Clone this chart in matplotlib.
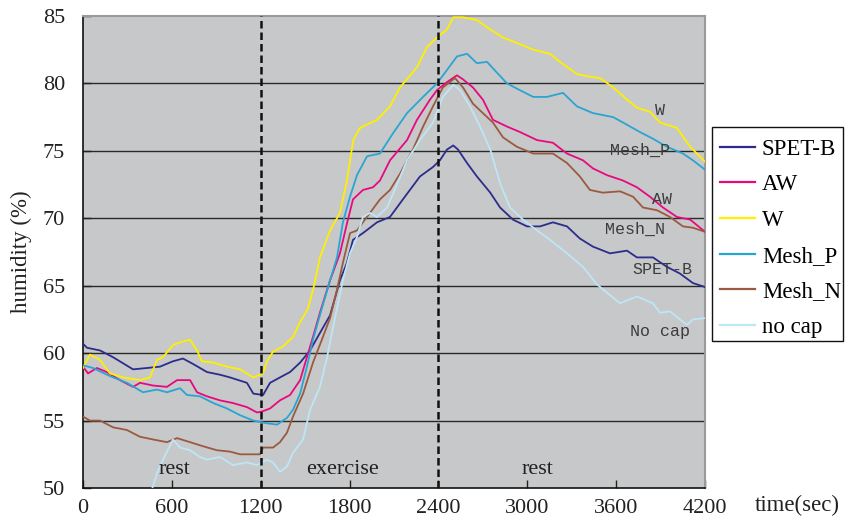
import matplotlib
matplotlib.use("Agg")
import matplotlib.pyplot as plt
from matplotlib.patches import Rectangle

plt.rcParams['font.family'] = ['Liberation Serif', 'DejaVu Serif']

# --- humidity traces (time in s, relative humidity in %) ---
t_w = [0, 47, 115, 182, 270, 385, 452, 500, 540, 608, 655, 723, 770, 803, 880, 972, 1060, 1150, 1216, 1242,
       1283, 1350, 1418, 1466, 1519, 1560, 1600, 1668, 1735, 1782, 1825, 1870, 1985, 2073, 2140, 2255, 2323,
       2390, 2458, 2500, 2566, 2660, 2750, 2836, 2930, 3040, 3153, 3220, 3335, 3423, 3490, 3580, 3673, 3740,
       3828, 3896, 4010, 4100, 4200]
h_w = [58.9, 59.9, 59.5, 58.5, 58.2, 58.0, 58.2, 59.5, 59.7, 60.6, 60.8, 61.0, 60.2, 59.4, 59.3, 59.0, 58.8,
       58.2, 58.5, 59.4, 60.1, 60.5, 61.2, 62.3, 63.3, 65.0, 67.1, 69.1, 70.4, 72.8, 75.8, 76.7, 77.3, 78.3,
       79.7, 81.2, 82.7, 83.4, 84.0, 84.9, 84.9, 84.7, 84.0, 83.4, 83.0, 82.5, 82.2, 81.6, 80.7, 80.5, 80.4,
       79.7, 78.8, 78.2, 77.9, 77.1, 76.7, 75.3, 74.2]

t_aw = [0, 34, 94, 160, 250, 338, 385, 473, 567, 635, 723, 770, 837, 925, 1013, 1107, 1175, 1216, 1263, 1330,
        1398, 1466, 1512, 1553, 1600, 1668, 1735, 1782, 1823, 1890, 1958, 2005, 2073, 2188, 2255, 2343, 2390,
        2458, 2525, 2566, 2633, 2700, 2768, 2863, 2950, 3065, 3173, 3268, 3376, 3443, 3538, 3646, 3740, 3828,
        3916, 4010, 4100, 4200]
h_aw = [59.0, 58.5, 58.9, 58.6, 58.0, 57.5, 57.8, 57.6, 57.5, 58.0, 58.0, 57.1, 56.8, 56.5, 56.3, 56.0, 55.6,
        55.7, 55.9, 56.5, 56.9, 58.0, 59.7, 61.2, 63.0, 65.4, 67.4, 69.6, 71.4, 72.1, 72.3, 72.8, 74.3, 75.8,
        77.3, 78.8, 79.5, 80.1, 80.6, 80.3, 79.7, 78.8, 77.3, 76.8, 76.4, 75.8, 75.6, 74.8, 74.3, 73.7, 73.2,
        72.8, 72.3, 71.6, 70.8, 70.1, 69.9, 69.0]

t_mp = [0, 67, 182, 297, 405, 500, 567, 655, 702, 790, 880, 972, 1060, 1150, 1242, 1310, 1377, 1418, 1466,
        1512, 1553, 1620, 1715, 1755, 1803, 1850, 1918, 2005, 2093, 2188, 2296, 2390, 2458, 2525, 2593, 2660,
        2728, 2795, 2863, 2950, 3040, 3133, 3241, 3335, 3443, 3580, 3646, 3760, 3848, 3943, 4051, 4118, 4200]
h_mp = [59.1, 58.9, 58.3, 57.8, 57.1, 57.3, 57.1, 57.4, 56.9, 56.8, 56.3, 55.9, 55.4, 55.0, 54.8, 54.7, 55.2,
        55.8, 57.0, 59.0, 61.0, 63.6, 67.1, 69.7, 71.6, 73.2, 74.6, 74.8, 76.3, 77.8, 79.0, 80.0, 81.0, 82.0,
        82.2, 81.5, 81.6, 80.8, 80.0, 79.5, 79.0, 79.0, 79.3, 78.3, 77.8, 77.5, 77.1, 76.4, 75.9, 75.3, 74.8,
        74.3, 73.6]

t_sb = [0, 27, 115, 203, 338, 432, 520, 608, 675, 743, 837, 925, 993, 1107, 1150, 1216, 1263, 1330, 1398,
        1466, 1533, 1600, 1668, 1735, 1782, 1823, 1890, 1985, 2073, 2160, 2275, 2363, 2410, 2458, 2500, 2532,
        2593, 2660, 2750, 2816, 2903, 2998, 3086, 3173, 3268, 3355, 3443, 3558, 3673, 3740, 3848, 3943, 4031,
        4118, 4200]
h_sb = [60.7, 60.4, 60.2, 59.7, 58.8, 58.9, 59.0, 59.4, 59.6, 59.2, 58.6, 58.4, 58.2, 57.8, 57.0, 56.9, 57.8,
        58.2, 58.6, 59.3, 60.2, 61.5, 62.8, 65.4, 66.7, 68.4, 68.9, 69.7, 70.1, 71.4, 73.1, 73.8, 74.3, 75.1,
        75.4, 75.1, 74.1, 73.1, 71.9, 70.8, 69.9, 69.4, 69.4, 69.7, 69.4, 68.5, 67.9, 67.4, 67.6, 67.1, 67.1,
        66.4, 65.9, 65.2, 64.9]

t_mn = [0, 47, 115, 203, 297, 385, 473, 567, 635, 723, 810, 905, 993, 1060, 1195, 1216, 1283, 1330, 1377,
        1418, 1486, 1553, 1620, 1668, 1715, 1755, 1803, 1850, 1890, 1938, 2005, 2073, 2140, 2228, 2296, 2363,
        2430, 2512, 2566, 2633, 2700, 2768, 2836, 2930, 3040, 3173, 3268, 3355, 3423, 3510, 3626, 3714, 3781,
        3875, 3963, 4051, 4118, 4200]
h_mn = [55.3, 55.0, 55.0, 54.5, 54.3, 53.8, 53.6, 53.4, 53.7, 53.4, 53.1, 52.8, 52.7, 52.5, 52.5, 53.0, 53.0,
        53.4, 54.1, 55.3, 57.0, 59.3, 61.2, 62.6, 64.7, 66.7, 68.9, 69.1, 69.7, 70.4, 71.4, 72.1, 73.3, 75.1,
        76.8, 78.3, 79.7, 80.4, 79.7, 78.5, 77.8, 77.1, 76.0, 75.3, 74.8, 74.8, 74.1, 73.1, 72.1, 71.9, 72.0,
        71.6, 70.8, 70.6, 70.1, 69.4, 69.3, 69.0]

t_nc = [440, 500, 540, 608, 655, 723, 790, 837, 925, 1013, 1107, 1175, 1242, 1283, 1330, 1377, 1418, 1486,
        1533, 1600, 1648, 1688, 1755, 1803, 1850, 1890, 1938, 1985, 2053, 2093, 2188, 2275, 2363, 2430, 2500,
        2546, 2613, 2681, 2750, 2816, 2883, 2971, 3065, 3153, 3268, 3376, 3470, 3558, 3626, 3740, 3848, 3896,
        3963, 4031, 4078, 4118, 4200]
h_nc = [49.0, 51.1, 52.1, 53.6, 53.0, 52.8, 52.3, 52.1, 52.3, 51.7, 51.9, 51.7, 52.1, 51.9, 51.2, 51.6, 52.6,
        53.6, 55.8, 57.5, 59.7, 61.9, 65.4, 67.4, 68.6, 70.1, 70.4, 70.1, 70.8, 71.8, 74.3, 75.8, 77.1, 79.0,
        79.9, 79.5, 78.3, 76.8, 75.1, 72.6, 70.8, 69.9, 69.1, 68.4, 67.4, 66.4, 65.1, 64.3, 63.7, 64.2, 63.7,
        63.0, 63.1, 62.5, 62.1, 62.5, 62.6]

series = [
    ("SPET-B", t_sb, h_sb, "#2c2c8c"),
    ("AW", t_aw, h_aw, "#e8087f"),
    ("W", t_w, h_w, "#fff000"),
    ("Mesh_P", t_mp, h_mp, "#2aa5d2"),
    ("Mesh_N", t_mn, h_mn, "#9b5a40"),
    ("no cap", t_nc, h_nc, "#bde6f7"),
]

# end-of-curve annotations (text, time, humidity)
curve_tags = [("W", 3896, 78.0), ("Mesh_P", 3761, 75.0), ("AW", 3910, 71.4),
              ("Mesh_N", 3727, 69.2), ("SPET-B", 3910, 66.2), ("No cap", 3896, 61.6)]

# phase labels and phase boundaries
phases = [("rest", 621), ("exercise", 1749), ("rest", 3066)]
boundaries = [1200, 2400]

x_ticks = [0, 600, 1200, 1800, 2400, 3000, 3600, 4200]
y_ticks = [50, 55, 60, 65, 70, 75, 80, 85]

fig = plt.figure(figsize=(8.6, 5.21), dpi=100)
ax = fig.add_axes([0.0965, 0.0633, 0.7233, 0.906])
ax.set_facecolor("#c7c8ca")

for y in y_ticks[1:-1]:
    ax.axhline(y, color="#2a2a2a", lw=1.0, zorder=1)

for name, t, h, c in series:
    ax.plot(t, h, color=c, lw=1.3, label=name, zorder=3)

for b in boundaries:
    ax.axvline(b, color="#111111", lw=1.8, ls=(0, (3.0, 1.6)), zorder=4)

for txt, tx, ty in curve_tags:
    ax.text(tx, ty, txt, family=["Liberation Mono", "DejaVu Sans Mono"], fontsize=12,
            color="#3c3c3c", ha="center", va="center", zorder=5)

for txt, tx in phases:
    ax.text(tx, 51.4, txt, fontsize=16, color="#222222", ha="center", va="center", zorder=5)

ax.set_xlim(0, 4200)
ax.set_ylim(50, 85)
ax.set_xticks(x_ticks)
ax.set_yticks(y_ticks)
ax.tick_params(direction="in", length=6, width=1, labelsize=16, colors="#222222")
ax.tick_params(axis="y", pad=13)
ax.tick_params(axis="x", pad=8)

for side in ("left", "bottom"):
    ax.spines[side].set_color("#111111")
    ax.spines[side].set_linewidth(1.2)
for side in ("top", "right"):
    ax.spines[side].set_color("#9a9a9a")
    ax.spines[side].set_linewidth(1.5)

ax.set_ylabel("humidity (%)", fontsize=16.5, color="#222222", labelpad=8)
fig.text(0.927, 0.03, "time(sec)", fontsize=16.5, color="#222222", ha="center", va="center")

# legend: entries placed without a frame, box drawn separately
leg = fig.legend(loc="upper left", bbox_to_anchor=(0.8372, 0.734), fontsize=16.5, frameon=False,
                 labelspacing=0.64, handlelength=1.53, handletextpad=0.3, borderpad=0,
                 borderaxespad=0)
for line in leg.get_lines():
    line.set_linewidth(1.6)
fig.patches.append(Rectangle((0.8279, 0.3455), 0.1523, 0.4107, transform=fig.transFigure,
                             fill=False, edgecolor="#111111", linewidth=1.0))

fig.savefig("out.png", dpi=100)
